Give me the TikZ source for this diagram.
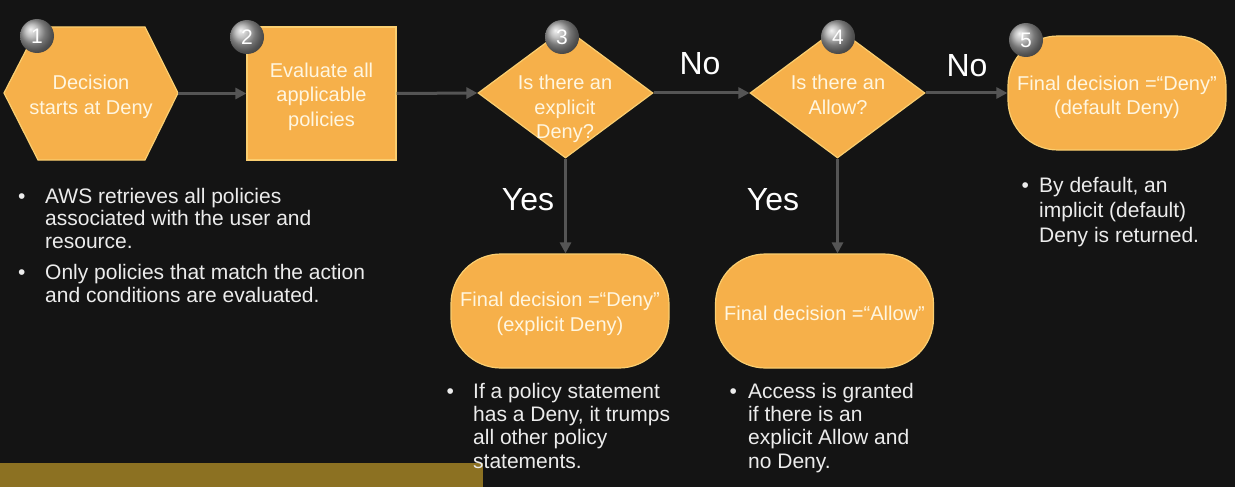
\documentclass[tikz,border=0pt]{standalone}
\usepackage{fontspec}
\setmainfont{Liberation Sans}
\usetikzlibrary{shapes.geometric,arrows.meta}
\definecolor{bg}{RGB}{20,20,20}
\definecolor{boxfill}{RGB}{246,176,74}
\definecolor{boxedge}{RGB}{250,206,112}
\definecolor{boxtext}{RGB}{255,246,224}
\definecolor{linec}{RGB}{85,85,85}
\definecolor{barc}{RGB}{140,113,34}
\definecolor{bullettext}{RGB}{236,236,236}
\definecolor{badgec}{RGB}{170,170,170}
\begin{document}
\begin{tikzpicture}[x=1pt,y=-1pt,
  shapefill/.style={fill=boxfill, draw=boxedge, line width=1.2pt},
  shapetext/.style={text=boxtext, align=center, inner sep=0pt, font=\fontsize{20}{24.5}\selectfont},
  term/.style={shapefill, rounded corners=50pt, minimum width=218pt, minimum height=114pt, inner sep=0pt},
  dia/.style={diamond, shapefill, minimum width=175pt, minimum height=130pt, inner sep=0pt},
  flow/.style={draw=linec, line width=3pt, -{Triangle[length=11pt,width=11pt]}},
  badge/.style={circle, minimum size=34pt, inner sep=0pt, ball color=badgec, text=white, font=\fontsize{21}{21}\selectfont},
  yesno/.style={text=white, anchor=base, inner sep=0pt, font=\fontsize{32}{32}\selectfont},
  bullets/.style={text=bullettext, anchor=base west, inner sep=0pt},
]
% background
\fill[bg] (0,0) rectangle (1235,487);
\useasboundingbox (0,0) rectangle (1235,487);
\fill[barc] (0,463) rectangle (483,487);

% step 1: hexagon
\path[shapefill] (4,93) -- (38,27) -- (145,27) -- (178,93) -- (145,160) -- (38,160) -- cycle;
\node[minimum width=174pt, minimum height=133pt, inner sep=0pt] (n1) at (91,93.5) {};
\node[shapetext] (n1t) at (91,97) {Decision\\starts at Deny};

% step 2: rectangle
\node[shapefill, minimum width=149pt, minimum height=133pt, inner sep=0pt] (n2) at (321.5,93.5) {};
\node[shapetext] (n2t) at (321.5,96.5) {Evaluate all\\applicable\\policies};

% step 3 and 4: diamonds
\node[dia] (n3) at (565.5,93) {};
\node[shapetext] (n3t) at (565,109) {Is there an\\explicit\\Deny?};
\node[dia] (n4) at (837.5,93) {};
\node[shapetext] (n4t) at (838,95) {Is there an\\Allow?};

% terminators
\node[term] (n5) at (1117,93) {};
\node[shapetext] (n5t) at (1117,97.5) {Final decision =“Deny”\\(default Deny)};
\node[term] (n3b) at (560,311) {};
\node[shapetext] (n3bt) at (560,314) {Final decision =“Deny”\\(explicit Deny)};
\node[term] (n4b) at (824.5,311) {};
\node[shapetext] (n4bt) at (824.5,313) {Final decision =“Allow”};

% connectors
\draw[flow] (n1.east) -- (n2.west);
\draw[flow] (n2.east) -- (n3.west);
\draw[flow] (n3.east) -- (n4.west);
\draw[flow] (n4.east) -- (n5.west);
\draw[flow] (n3.south) -- (n3.south |- n3b.north);
\draw[flow] (n4.south) -- (n4.south |- n4b.north);

% labels
\node[yesno] (no1) at (700,75) {No};
\node[yesno] (no2) at (967,77) {No};
\node[yesno] (yes1) at (528,210) {Yes};
\node[yesno] (yes2) at (773,210) {Yes};

% badges
\node[badge] (b1) at (37,36) {1};
\node[badge] (b2) at (247,37) {2};
\node[badge] (b3) at (562,37) {3};
\node[badge] (b4) at (838,37) {4};
\node[badge] (b5) at (1026,40) {5};

% bullet texts
\node[bullets, font=\fontsize{21}{22.8}\selectfont] (t1) at (18,203)
 {\begin{tabular}[t]{@{}p{27pt}@{}l@{}}
 •&AWS retrieves all policies\\
  &associated with the user and\\
  &resource.\\[8pt]
 •&Only policies that match the action\\
  &and conditions are evaluated.
 \end{tabular}};
\node[bullets, font=\fontsize{21}{23.4}\selectfont] (t3) at (446.5,398)
 {\begin{tabular}[t]{@{}p{26.5pt}@{}l@{}}
 •&If a policy statement\\
  &has a Deny, it trumps\\
  &all other policy\\
  &statements.
 \end{tabular}};
\node[bullets, font=\fontsize{21}{23.4}\selectfont] (t4) at (729.5,398)
 {\begin{tabular}[t]{@{}p{18.5pt}@{}l@{}}
 •&Access is granted\\
  &if there is an\\
  &explicit Allow and\\
  &no Deny.
 \end{tabular}};
\node[bullets, font=\fontsize{21}{25}\selectfont] (t5) at (1021.5,192)
 {\begin{tabular}[t]{@{}p{17.5pt}@{}l@{}}
 •&By default, an\\
  &implicit (default)\\
  &Deny is returned.
 \end{tabular}};
\end{tikzpicture}
\end{document}
